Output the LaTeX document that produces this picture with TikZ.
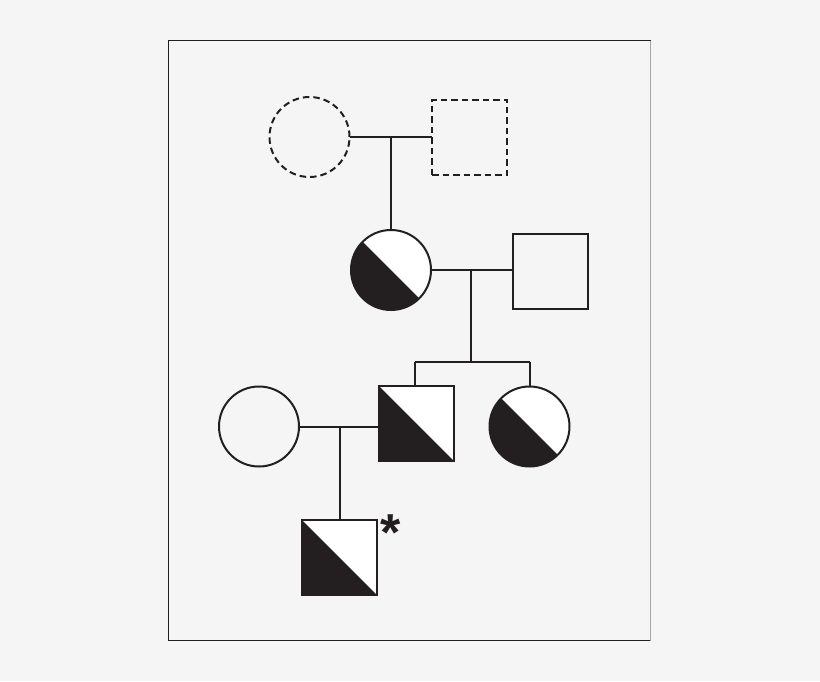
\documentclass[tikz,border=0pt]{standalone}
\usepackage{tikz}
\usepackage{fontspec}
\usetikzlibrary{calc}
\newfontfamily\astfont{Liberation Sans}
\definecolor{bg}{HTML}{F5F5F5}
\definecolor{ink}{HTML}{231F20}
\tikzset{
  ln/.style={draw=ink, line width=2pt},
  dsh/.style={draw=ink, line width=2pt, dash pattern=on 6.5pt off 4pt},
  fem/.style={circle, minimum size=80pt, inner sep=0pt, outer sep=0pt},
  mal/.style={rectangle, minimum size=75pt, inner sep=0pt, outer sep=0pt},
}
\begin{document}
\begin{tikzpicture}[x=1pt,y=-1pt]
\fill[bg] (0,0) rectangle (820,681);
\useasboundingbox (0,0) rectangle (820,681);
% frame
\draw[ink, line width=1.4pt] (651,640.5) -- (168.5,640.5) -- (168.5,40.5) -- (651,40.5);
\draw[gray!70, line width=0.8pt] (650.5,40.5) -- (650.5,640.5);

% generation I
\node[fem, dsh] (g1f) at (309.5,137) {};
\node[mal, dsh] (g1m) at (469.5,137) {};

% generation II
\node[fem] (g2f) at (391,270) {};
\node[mal, ln] (g2m) at (550,271) {};
\begin{scope}
  \clip (391,270) circle (40);
  \fill[white] (391,270) circle (40);
  \fill[ink] ($(391,270)+(-60,-60)$) -- ($(391,270)+(60,60)$) -- ($(391,270)+(-60,60)$) -- cycle;
\end{scope}
\draw[ln] (g2f) circle (40);

% generation III
\node[fem, ln] (g3w) at (259,426.5) {};
\node[mal] (g3m) at (416.5,423.5) {};
\fill[white] (379,386) rectangle (454,461);
\fill[ink] (379,386) -- (454,461) -- (379,461) -- cycle;
\draw[ln] (379,386) rectangle (454,461);
\node[fem] (g3f) at (529.5,426.5) {};
\begin{scope}
  \clip (529.5,426.5) circle (40);
  \fill[white] (529.5,426.5) circle (40);
  \fill[ink] ($(529.5,426.5)+(-60,-60)$) -- ($(529.5,426.5)+(60,60)$) -- ($(529.5,426.5)+(-60,60)$) -- cycle;
\end{scope}
\draw[ln] (g3f) circle (40);

% generation IV
\node[mal] (g4m) at (339.5,557.5) {};
\fill[white] (302,520) rectangle (377,595);
\fill[ink] (302,520) -- (377,595) -- (302,595) -- cycle;
\draw[ln] (302,520) rectangle (377,595);
\node[font=\astfont\bfseries\fontsize{52}{52}\selectfont, text=ink, inner sep=0pt, anchor=north] (ast) at (391,515) {*};

% connectors
\coordinate (m1) at (391,137);
\draw[ln] (g1f.east) -- (g1m.west);
\draw[ln] (m1) -- (g2f.north);

\coordinate (m2) at (471,270);
\coordinate (s2) at (471,362);
\coordinate (s2a) at (415,362);
\coordinate (s2b) at (529.5,362);
\draw[ln] (g2f.east) -- (g2m.west |- g2f.east);
\draw[ln] (m2) -- (s2);
\draw[ln] (s2a) -- (s2b);
\draw[ln] (s2a) -- (s2a |- g3m.north);
\draw[ln] (s2b) -- (g3f.north);

\coordinate (m3) at (339.5,426.5);
\draw[ln] (g3w.east) -- (g3m.west |- g3w.east);
\draw[ln] (m3) -- (g4m.north);
\end{tikzpicture}
\end{document}
